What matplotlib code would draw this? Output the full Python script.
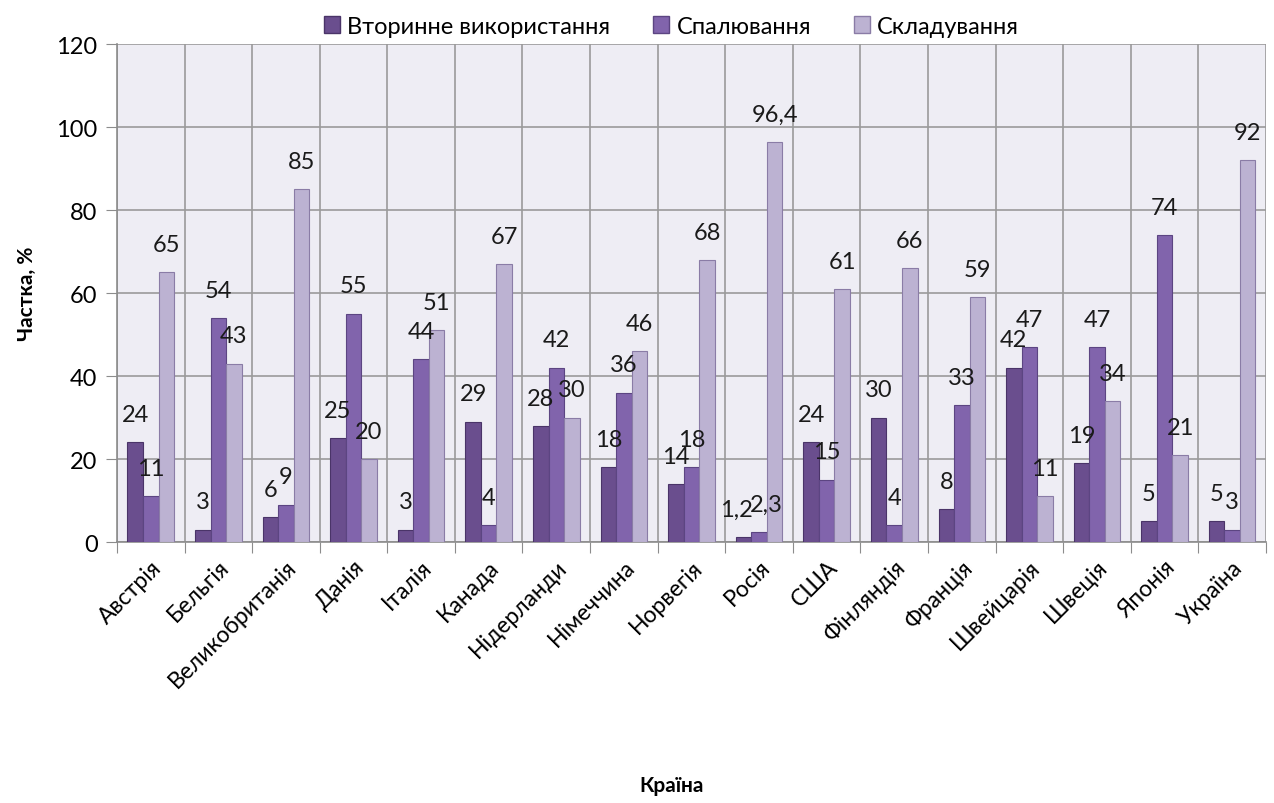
import numpy as np
import matplotlib
matplotlib.use('Agg')
import matplotlib.pyplot as plt
from matplotlib.patches import Patch

plt.rcParams['font.family'] = ['Lato', 'DejaVu Sans']

countries = ['Австрія', 'Бельгія', 'Великобританія', 'Данія', 'Італія', 'Канада',
             'Нідерланди', 'Німеччина', 'Норвегія', 'Росія', 'США', 'Фінляндія',
             'Франція', 'Швейцарія', 'Швеція', 'Японія', 'Україна']
recycling = [24, 3, 6, 25, 3, 29, 28, 18, 14, 1.2, 24, 30, 8, 42, 19, 5, 5]
burning = [11, 54, 9, 55, 44, 4, 42, 36, 18, 2.3, 15, 4, 33, 47, 47, 74, 3]
landfill = [65, 43, 85, 20, 51, 67, 30, 46, 68, 96.4, 61, 66, 59, 11, 34, 21, 92]
series_names = ['Вторинне використання', 'Спалювання', 'Складування']

colors = ['#6a4e8e', '#8164ac', '#bcb2d2']
edges = ['#4a3468', '#5c4582', '#8a7ca6']

fig = plt.figure(figsize=(12.74, 8.04), dpi=100)
ax = fig.add_axes([0.0918, 0.3246, 0.9019, 0.6194])
ax.set_facecolor('#eeedf4')

x = np.arange(len(countries))
w = 0.23
for k, vals in enumerate([recycling, burning, landfill]):
    pos = x + (k - 1) * w
    ax.bar(pos, vals, w, color=colors[k], edgecolor=edges[k], linewidth=0.8, zorder=3)
    for xp, v in zip(pos, vals):
        txt = ('%g' % v).replace('.', ',')
        dx = 0
        if v != int(v) and v < 5:
            # the two small decimal labels sit side by side, push them apart
            dx = -5 if k == 0 else 5
        ax.annotate(txt, (xp, v), xytext=(dx, 20), textcoords='offset points',
                    ha='center', va='center', fontsize=17, color='#1a1a1a', zorder=4)

ax.set_xlim(-0.5, len(countries) - 0.5)
ax.set_ylim(0, 120)
ax.set_yticks(np.arange(0, 121, 20))
ax.tick_params(axis='y', labelsize=17, length=8, color='#8c8c8c', pad=6)

# category boundaries carry the vertical grid and tick marks
ax.set_xticks(np.arange(-0.5, len(countries)), minor=False)
ax.set_xticklabels([])
ax.set_xticks(x, minor=True)
ax.set_xticklabels(countries, minor=True, rotation=45, ha='right',
                   rotation_mode='anchor', fontsize=16.5)
ax.tick_params(axis='x', which='major', length=8, color='#8c8c8c')
ax.tick_params(axis='x', which='minor', length=0, pad=10)
ax.grid(True, which='major', color='#9a9a9a', linewidth=1.2, zorder=0)
ax.set_axisbelow(True)

for s in ['top', 'right']:
    ax.spines[s].set_visible(False)
for s in ['left', 'bottom']:
    ax.spines[s].set_color('#8c8c8c')
    ax.spines[s].set_linewidth(1.2)

ax.set_ylabel('Частка, %', fontsize=15, fontweight='bold', labelpad=14)
fig.text(0.527, 0.01, 'Країна', fontsize=15, fontweight='bold', ha='center', va='bottom')

handles = [Patch(facecolor=colors[k], edgecolor=edges[k]) for k in range(3)]
fig.legend(handles, series_names, loc='center', bbox_to_anchor=(0.527, 0.966), ncol=3,
           frameon=False, fontsize=17, handlelength=0.7, handleheight=0.7,
           handletextpad=0.3, columnspacing=1.8)

fig.savefig('out.png', dpi=100)
